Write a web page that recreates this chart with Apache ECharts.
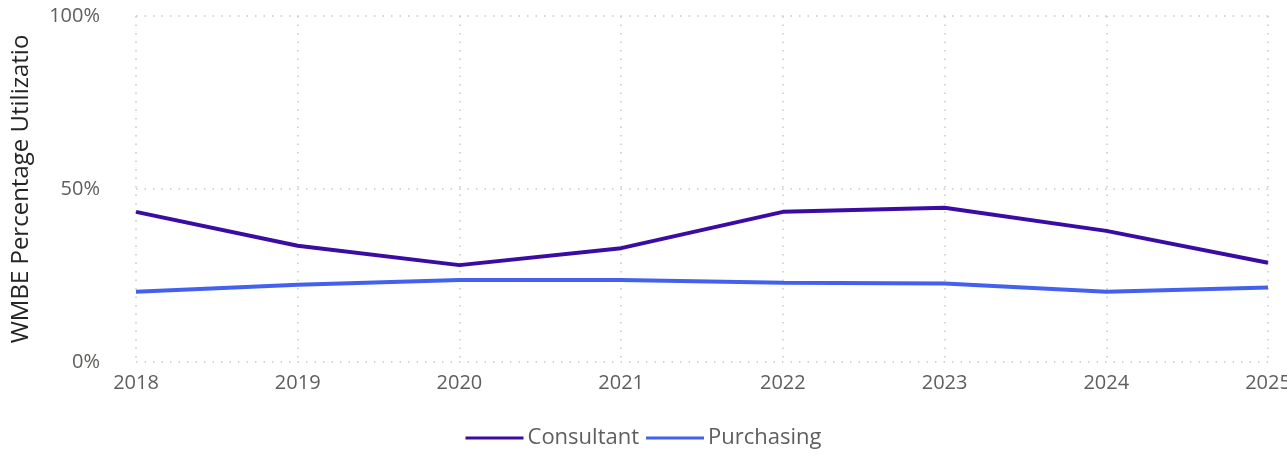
<!DOCTYPE html>
<html>
<head>
<meta charset="utf-8">
<script src="https://cdn.jsdelivr.net/npm/echarts@6/dist/echarts.min.js"></script>
<style>
html,body{margin:0;padding:0;background:#fff;}
#chart{width:1287px;height:471px;}
</style>
</head>
<body>
<div id="chart"></div>
<script>
const years = ['2018','2019','2020','2021','2022','2023','2024','2025'];
const consultant = [43.4, 33.6, 28.0, 32.9, 43.4, 44.6, 37.9, 28.7];
const purchasing = [20.3, 22.3, 23.7, 23.7, 22.9, 22.7, 20.3, 21.5];
const yTicks = [0, 50, 100];

const chart = echarts.init(document.getElementById('chart'));
const font = '"Open Sans", "Noto Sans", sans-serif';
chart.setOption({
  backgroundColor: '#fff',
  animation: false,
  grid: {left: 136, right: 19, top: 16, bottom: 109, outerBoundsMode: 'none', containLabel: false},
  legend: {
    data: ['Consultant', 'Purchasing'],
    left: 'center',
    top: 422,
    icon: 'rect',
    itemWidth: 58,
    itemHeight: 3,
    itemGap: 7,
    textStyle: {color: '#605e5c', fontSize: 22, fontFamily: font, padding: [0,0,0,-1]}
  },
  xAxis: {
    type: 'category',
    data: years,
    boundaryGap: false,
    axisLine: {show: false},
    axisTick: {show: false},
    axisLabel: {color: '#605e5c', fontSize: 20, fontFamily: font, margin: 11},
    splitLine: {show: true, lineStyle: {color: '#c8c8c8', type: [1.5, 7], width: 1.5}}
  },
  yAxis: {
    type: 'value',
    min: 0, max: 100, interval: 50,
    name: 'WMBE Percentage Utilizatio',
    nameLocation: 'middle',
    nameRotate: 90,
    nameGap: 103,
    nameTextStyle: {color: '#252423', fontSize: 24, fontFamily: font},
    axisLine: {show: false},
    axisTick: {show: false},
    axisLabel: {color: '#605e5c', fontSize: 20, fontFamily: font, margin: 36,
      formatter: v => yTicks.includes(v) ? v + '%' : ''},
    splitLine: {show: true, lineStyle: {color: '#c8c8c8', type: [1.5, 7], width: 1.5}}
  },
  series: [
    {name: 'Consultant', type: 'line', data: consultant, symbol: 'none',
     lineStyle: {color: '#3a0ca3', width: 4}, itemStyle: {color: '#3a0ca3'}},
    {name: 'Purchasing', type: 'line', data: purchasing, symbol: 'none',
     lineStyle: {color: '#4361ee', width: 4}, itemStyle: {color: '#4361ee'}}
  ]
});
</script>
</body>
</html>
